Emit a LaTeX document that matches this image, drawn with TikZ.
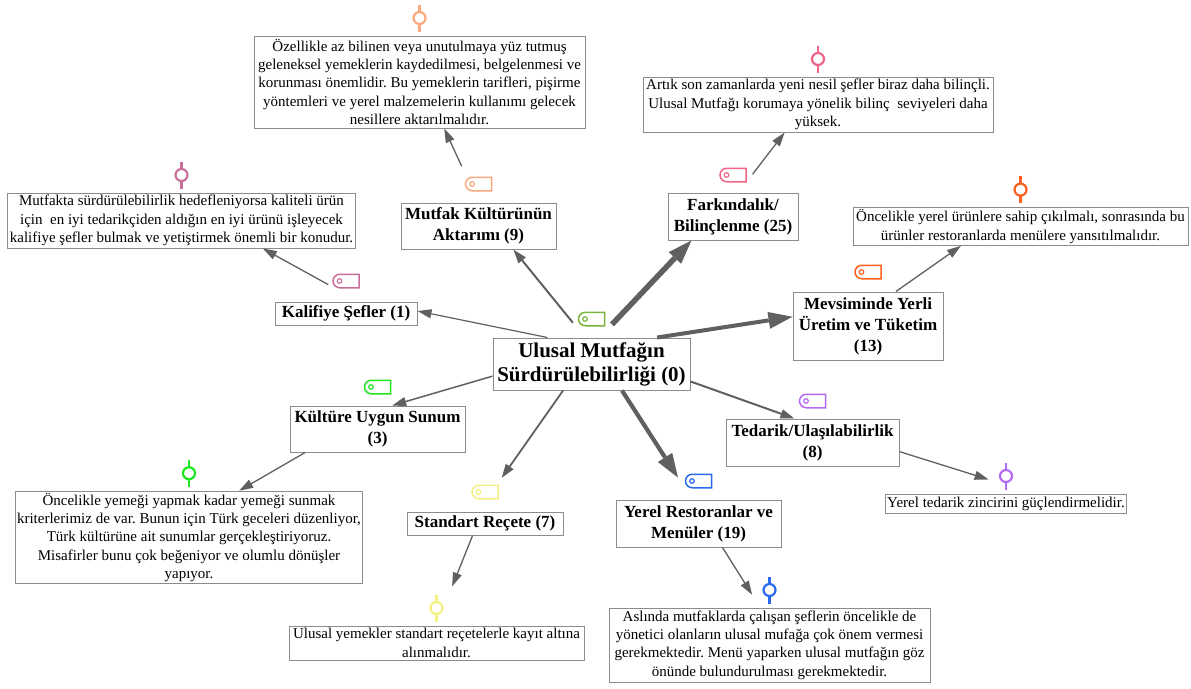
\documentclass[tikz,border=0pt]{standalone}
\usepackage{fontspec}
\setmainfont{Liberation Serif}
\usetikzlibrary{positioning,arrows.meta,shapes.misc}
\frenchspacing

\definecolor{edgegray}{RGB}{96,96,96}
\definecolor{boxgray}{RGB}{140,140,140}
\definecolor{tagolive}{RGB}{120,180,60}
\definecolor{tagsalmon}{RGB}{250,168,125}
\definecolor{tagpink}{RGB}{242,100,135}
\definecolor{tagmauve}{RGB}{200,110,155}
\definecolor{tagorange}{RGB}{255,95,30}
\definecolor{taggreen}{RGB}{30,230,30}
\definecolor{tagyellow}{RGB}{245,240,130}
\definecolor{tagblue}{RGB}{40,105,240}
\definecolor{tagpurple}{RGB}{180,105,245}

\begin{document}
\begin{tikzpicture}[x=1pt, y=-1pt,
  hubbox/.style={draw=boxgray, fill=white, line width=1pt, align=center, inner sep=2pt, font=\fontsize{21}{24}\selectfont\bfseries},
  codebox/.style={draw=boxgray, fill=white, line width=1pt, align=center, inner sep=2pt, font=\fontsize{17}{21}\selectfont\bfseries},
  quotebox/.style={draw=boxgray, fill=white, line width=1pt, align=center, inner sep=2pt, font=\fontsize{15}{18.3}\selectfont},
  codetag/.style={draw=#1, rounded rectangle, rounded rectangle right arc=none, line width=1.5pt, minimum width=26pt, minimum height=13.5pt, inner sep=0pt,
    path picture={\draw[#1, line width=1.2pt] ([xshift=6.5pt]path picture bounding box.west) circle[radius=2.3pt];}},
  pics/quotepin/.style={code={
    \draw[#1, line width=2.2pt] (0,-4) -- (0,-11.5) (0,-23.5) -- (0,-31);
    \draw[#1, line width=2.2pt, fill=white] (0,-17.5) circle[radius=6pt];}},
  link/.style={draw=edgegray, line width=#1, -{Triangle[length=14pt, width=9pt]}},
  link/.default=1.3pt,
  strong/.style={draw=edgegray, line width=#1, -{Triangle[length=24pt, width=17pt, line width=0pt]}}
]
\useasboundingbox (0,0) rectangle (1191,688);

% hub and codes
\node (ulusal) [hubbox, minimum width=197pt, minimum height=52pt] at (591.5,364) {Ulusal Mutfağın\\Sürdürülebilirliği (0)};
\node (mutfak) [codebox, minimum width=155pt, minimum height=46pt] at (478.5,226) {Mutfak Kültürünün\\Aktarımı (9)};
\node (farkin) [codebox, minimum width=130pt, minimum height=47pt] at (733,216.5) {Farkındalık/\\Bilinçlenme (25)};
\node (kalifiye) [codebox, minimum width=142pt, minimum height=23pt] at (346,313.5) {Kalifiye Şefler (1)};
\node (mevsim) [codebox, minimum width=150pt, minimum height=68pt] at (868,326) {Mevsiminde Yerli\\Üretim ve Tüketim\\(13)};
\node (kultur) [codebox, minimum width=175pt, minimum height=46pt] at (377.5,429) {Kültüre Uygun Sunum\\(3)};
\node (standart) [codebox, minimum width=156pt, minimum height=23pt] at (485,523.5) {Standart Reçete (7)};
\node (yerel) [codebox, minimum width=165pt, minimum height=47pt] at (698.5,523.5) {Yerel Restoranlar ve\\Menüler (19)};
\node (tedarik) [codebox, minimum width=173pt, minimum height=47pt] at (812.5,442.5) {Tedarik/Ulaşılabilirlik\\(8)};

% tags above the codes
\node (ulusal-tag) [codetag=tagolive, above=11pt of ulusal] {};
\node (mutfak-tag) [codetag=tagsalmon, above=11pt of mutfak] {};
\node (farkin-tag) [codetag=tagpink, above=10pt of farkin] {};
\node (kalifiye-tag) [codetag=tagmauve, above=13pt of kalifiye] {};
\node (mevsim-tag) [codetag=tagorange, above=12pt of mevsim] {};
\node (kultur-tag) [codetag=taggreen, above=11pt of kultur] {};
\node (standart-tag) [codetag=tagyellow, above=12pt of standart] {};
\node (yerel-tag) [codetag=tagblue, above=11pt of yerel] {};
\node (tedarik-tag) [codetag=tagpurple, above=10pt of tedarik] {};

% quotations
\node (mutfak-q) [quotebox, minimum width=331pt, minimum height=92pt] at (419.5,82) {Özellikle az bilinen veya unutulmaya yüz tutmuş\\geleneksel yemeklerin kaydedilmesi, belgelenmesi ve\\korunması önemlidir. Bu yemeklerin tarifleri, pişirme\\yöntemleri ve yerel malzemelerin kullanımı gelecek\\nesillere aktarılmalıdır.};
\node (farkin-q) [quotebox, minimum width=350pt, minimum height=55pt] at (818,104.5) {Artık son zamanlarda yeni nesil şefler biraz daha bilinçli.\\Ulusal Mutfağı korumaya yönelik bilinç~ seviyeleri daha\\yüksek.};
\node (kalifiye-q) [quotebox, minimum width=347pt, minimum height=55pt] at (181.5,220.5) {Mutfakta sürdürülebilirlik hedefleniyorsa kaliteli ürün\\için~ en iyi tedarikçiden aldığın en iyi ürünü işleyecek\\kalifiye şefler bulmak ve yetiştirmek önemli bir konudur.};
\node (mevsim-q) [quotebox, minimum width=335pt, minimum height=37pt] at (1020.5,226.5) {Öncelikle yerel ürünlere sahip çıkılmalı, sonrasında bu\\ürünler restoranlarda menülere yansıtılmalıdır.};
\node (kultur-q) [quotebox, minimum width=346pt, minimum height=91pt] at (189,537.5) {Öncelikle yemeği yapmak kadar yemeği sunmak\\kriterlerimiz de var. Bunun için Türk geceleri düzenliyor,\\Türk kültürüne ait sunumlar gerçekleştiriyoruz.\\Misafirler bunu çok beğeniyor ve olumlu dönüşler\\yapıyor.};
\node (standart-q) [quotebox, minimum width=295pt, minimum height=34pt] at (436.5,643) {Ulusal yemekler standart reçetelerle kayıt altına\\alınmalıdır.};
\node (yerel-q) [quotebox, minimum width=321pt, minimum height=74pt] at (769.5,645) {Aslında mutfaklarda çalışan şeflerin öncelikle de\\yönetici olanların ulusal mufağa çok önem vermesi\\gerekmektedir. Menü yaparken ulusal mutfağın göz\\önünde bulundurulması gerekmektedir.};
\node (tedarik-q) [quotebox, minimum width=236pt, minimum height=19pt] at (1006,503.5) {Yerel tedarik zincirini güçlendirmelidir.};

% pins above the quotations
\pic at (mutfak-q.north) {quotepin=tagsalmon};
\pic at (farkin-q.north) {quotepin=tagpink};
\pic at (kalifiye-q.north) {quotepin=tagmauve};
\pic at (mevsim-q.north) {quotepin=tagorange};
\pic at (kultur-q.north) {quotepin=taggreen};
\pic at (standart-q.north) {quotepin=tagyellow};
\pic at (yerel-q.north) {quotepin=tagblue};
\pic at (tedarik-q.north) {quotepin=tagpurple};

% hub to codes
\draw[link=1.2pt] (ulusal.149) -- (kalifiye.2);
\draw[link=2pt, shorten <=19pt] (ulusal.104) -- (mutfak.-34);
\draw[strong=5.5pt, shorten <=18pt] (ulusal.73) -- (farkin.210);
\draw[strong=4pt] (ulusal.22) -- (mevsim.173);
\draw[link=1.5pt] (ulusal.187) -- (kultur.58);
\draw[link=1.8pt, shorten >=41pt] (ulusal.223) -- (standart.120);
\draw[strong=4.2pt, shorten >=26pt] (ulusal.-41) -- (yerel.105);
\draw[link=2pt] (ulusal.-10) -- (tedarik.127);

% codes to quotations
\draw[link, shorten <=40pt] (mutfak.north) -- (mutfak-q.-62);
\draw[link, shorten <=23pt] (farkin.77) -- (farkin-q.-140);
\draw[link, shorten <=35pt] (kalifiye.43) -- (kalifiye-q.-19);
\draw[link] (mevsim.51) -- (mevsim-q.-162);
\draw[link] (kultur.-162) -- (kultur-q.43);
\draw[link, shorten >=42pt] (standart.-136) -- (standart-q.north);
\draw[link, shorten >=15pt] (yerel.-45) -- (yerel-q.104);
\draw[link, shorten >=47pt] (tedarik.-6) -- (tedarik-q.20);
\end{tikzpicture}
\end{document}
